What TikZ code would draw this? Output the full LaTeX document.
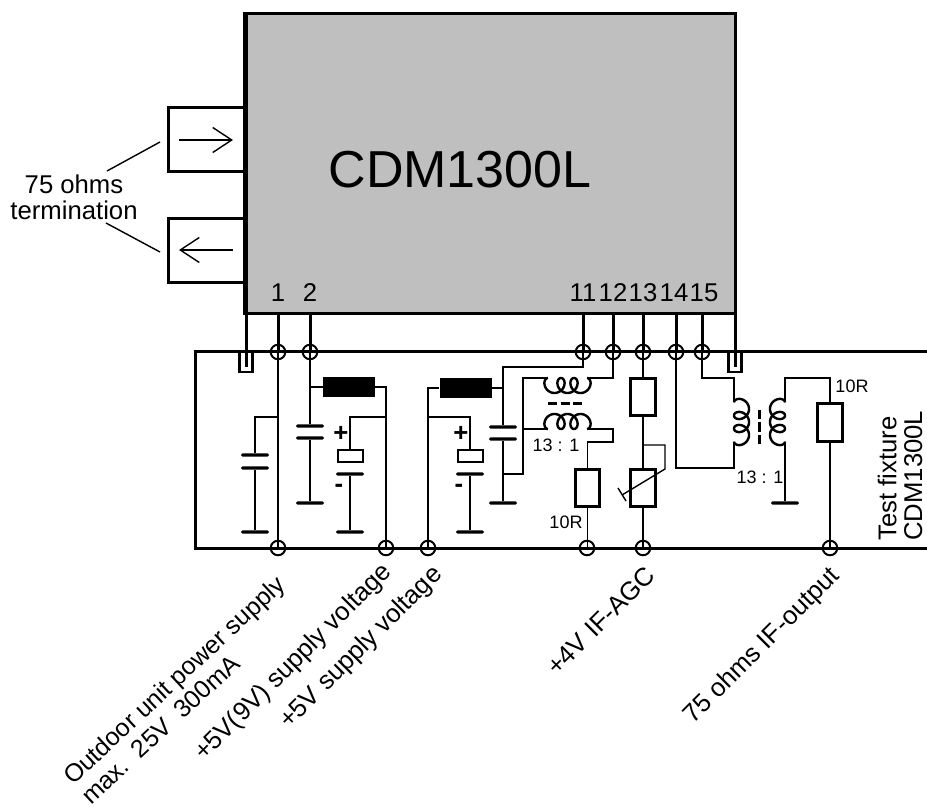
\documentclass[tikz,border=0pt]{standalone}
\usepackage{fontspec}
\setmainfont{Liberation Sans}
\usetikzlibrary{arrows,arrows.meta,positioning,calc}
\newcommand{\bigtxt}{\fontsize{25.7}{25.7}\selectfont}
\newcommand{\midtxt}{\fontsize{25}{25}\selectfont}
\newcommand{\smalltxt}{\fontsize{18}{18}\selectfont}
\tikzset{
    wire/.style={line width=1.4pt},
    lead/.style={line width=3pt},
    joint/.style={circle,draw,line width=2pt,minimum size=14.5pt,inner sep=0pt},
    res/.style={rectangle,draw,line width=3pt,minimum width=24.5pt,minimum height=37pt,inner sep=0pt},
    choke/.style={rectangle,fill=black,minimum width=52pt,minimum height=20pt,inner sep=0pt},
    elbox/.style={rectangle,draw,line width=2pt,minimum width=25pt,minimum height=12pt,inner sep=0pt},
    plate/.style={rectangle,fill=black,rounded corners=1.5pt,minimum width=28pt,minimum height=3.4pt,inner sep=0pt},
    stub/.style={rectangle,draw,line width=2.4pt,minimum width=13pt,minimum height=20pt,inner sep=0pt},
    term/.style={rectangle,draw,line width=3pt,minimum width=78pt,minimum height=64pt,inner sep=0pt},
    txt/.style={font=\bigtxt,inner sep=0pt},
    tiny/.style={font=\smalltxt,inner sep=0pt},
    coil/.pic={
        \draw[line width=2.4pt] plot[domain=-180:900,samples=140,smooth]
            ({2.07*(\x-360)*pi/180+6.5*sin(\x)},{7.5*cos(\x)});
        \coordinate (-a) at (-19.5,-7.5);
        \coordinate (-b) at (19.5,-7.5);
    }
}
\begin{document}
\begin{tikzpicture}[x=1pt,y=-1pt]
    \useasboundingbox (0,0) rectangle (927,810);
    \node[rectangle,draw,fill=black!25,line width=3pt,minimum width=489pt,minimum height=300pt,inner sep=0pt] (chip) at (490.5,164) {};
    \node[font=\fontsize{52}{52}\selectfont,inner sep=0pt] (chipname) at (460,170) {CDM1300L};
    \node[term] (term1) at (207,140) {};
    \node[term] (term2) at (207,250.5) {};
    \draw[line width=3pt] (chip.north west) -- (chip.south west);
    \coordinate (a1) at (179,140);
    \coordinate (a2) at (233,140);
    \coordinate (a3) at (233,250);
    \coordinate (a4) at (179,250);
    \draw[wire,-{Straight Barb[length=19pt,width=25pt]}] (a1) -- (a2);
    \draw[wire,-{Straight Barb[length=19pt,width=25pt]}] (a3) -- (a4);
    \node[txt] (termtxt1) at (74,184) {75 ohms};
    \node[txt] (termtxt2) at (74,210) {termination};
    \coordinate (l1) at (107,171);
    \coordinate (l2) at (106,223);
    \draw[wire] (l1) -- (160,142);
    \draw[wire] (l2) -- (160,252);
    \draw[lead] (927,352) -- (195,352) -- (195,548) -- (927,548);
    \foreach \n/\xx in {p1/278,p2/310,p11/583,p12/613,p13/643,p14/676,p15/702} {
        \node[joint] (\n) at (\xx,352) {};
        \draw[lead] (\n.center) -- (\n.center |- chip.south);
    }
    \foreach \n/\xx in {b1/278,b2/386,b3/428,b4/587,b5/643,b6/830} {
        \node[joint] (\n) at (\xx,548) {};
    }
    \foreach \t/\xx in {1/278,2/310,11/583,12/613,13/643,14/674,15/704} {
        \node[txt] (pin\t) at (\xx,293) {\t};
    }
    \node[stub] (stub1) at (246,362) {};
    \node[stub] (stub2) at (735,362) {};
    \draw[lead] (stub1.center |- chip.south) -- ++(0,52);
    \draw[lead] (stub2.center |- chip.south) -- ++(0,52);
    \draw[wire] (p1.center) -- (b1.center);
    \coordinate (k1) at (278,417);
    \node[plate] (c1a) at (255,455) {};
    \node[plate] (c1b) at (255,468) {};
    \node[plate] (g1) at (255,532) {};
    \draw[wire] (k1) -| (c1a);
    \draw[wire] (c1b) -- (g1);
    \node[choke] (r1) at (349,387) {};
    \node[plate] (c2a) at (310,426) {};
    \node[plate] (c2b) at (310,438) {};
    \node[plate] (g2) at (310,503) {};
    \draw[wire] (p2.center) -- (c2a);
    \draw[wire] (c2b) -- (g2);
    \draw[wire] (r1.west) -- (r1.west -| p2);
    \draw[wire] (r1.east) -| (b2.center);
    \coordinate (k2) at (386,417);
    \node[elbox] (e1) at (350,455.5) {};
    \node[plate] (c3) at (350,474) {};
    \node[plate] (g3) at (350,532) {};
    \draw[wire] (k2) -| (e1.north);
    \draw[wire] (c3) -- (g3);
    \node[txt,font=\bigtxt\bfseries] (plus1) at (341,434) {+};
    \node[txt,font=\bigtxt\bfseries] (minus1) at (339,488) {-};
    \node[choke] (r2) at (465.5,388) {};
    \draw[wire] (r2.west) -| (b3.center);
    \coordinate (k3) at (428,417);
    \node[elbox] (e2) at (470,455.5) {};
    \node[plate] (c4) at (470,474) {};
    \node[plate] (g4) at (470,532) {};
    \draw[wire] (k3) -| (e2.north);
    \draw[wire] (c4) -- (g4);
    \node[txt,font=\bigtxt\bfseries] (plus2) at (461,434) {+};
    \node[txt,font=\bigtxt\bfseries] (minus2) at (459,488) {-};
    \node[plate] (c5a) at (503,427) {};
    \node[plate] (c5b) at (503,439) {};
    \node[plate] (g5) at (503,503) {};
    \coordinate (k4) at (503,367);
    \draw[wire] (r2.east) -- (r2.east -| k4);
    \draw[wire] (p11.center) |- (k4) -- (c5a);
    \draw[wire] (c5b) -- (g5);
    \pic (upcoil) at (567.5,385.5) {coil};
    \pic[yscale=-1] (lowcoil) at (567.5,421.5) {coil};
    \draw[line width=3pt,dash pattern=on 9pt off 3.5pt] (548,404) -- (583,404);
    \coordinate (k5) at (523,474);
    \coordinate (k6) at (503,474);
    \coordinate (k7) at (523,429);
    \coordinate (k8) at (613,442);
    \node[res] (r10a) at (587.5,487.5) {};
    \draw[wire] (p12.center) |- (upcoil-b);
    \draw[wire] (upcoil-a) -| (k5) -- (k6);
    \draw[wire] (lowcoil-a) -- (k7);
    \draw[wire] (lowcoil-b) -| (k8) -| (r10a.north);
    \draw[wire] (r10a.south) -- (r10a.south |- b4);
    \node[tiny] (ratio1) at (556,445) {13 : 1};
    \node[tiny] (ohm1) at (566,522) {10R};
    \node[res] (r3) at (643,397) {};
    \node[res] (r4) at (643,487.5) {};
    \draw[wire] (p13.center) -- (r3.north);
    \draw[wire] (r3.south) -- (r4.north);
    \draw[wire] (r4.south) -- (b5.center);
    \coordinate (k9) at (643,445);
    \coordinate (k10) at (665,469);
    \coordinate (k11) at (622,495);
    \coordinate (k12) at (618,488);
    \coordinate (k13) at (626,501);
    \draw[wire] (k9) -| (k10) -- (k11);
    \draw[wire] (k12) -- (k13);
    \pic[rotate=90] (leftcoil) at (741.5,422) {coil};
    \pic[rotate=-90] (rightcoil) at (777.5,422) {coil};
    \draw[line width=3pt,dash pattern=on 9pt off 3.5pt] (759,410) -- (759,444);
    \coordinate (k14) at (734,468);
    \coordinate (k15) at (734,378);
    \coordinate (k16) at (785,378);
    \draw[wire] (p14.center) |- (k14) -- (leftcoil-a);
    \draw[wire] (p15.center) |- (k15) -- (leftcoil-b);
    \node[res] (r5) at (830,422.5) {};
    \node[plate] (g6) at (785,503) {};
    \draw[wire] (rightcoil-a) -- (k16) -| (r5.north);
    \draw[wire] (rightcoil-b) -- (g6);
    \draw[wire] (r5.south) -- (b6.center);
    \node[tiny] (ratio2) at (760,477) {13 : 1};
    \node[tiny] (ohm2) at (852,386) {10R};
    \node[txt,rotate=90,anchor=west,align=left] (fixture) at (900,541) {Test fixture\\CDM1300L};
    \node[txt,font=\midtxt,rotate=43,anchor=base west] (out1) at (73,786) {Outdoor unit power supply};
    \node[txt,font=\midtxt,rotate=43,anchor=base west] (out2) at (91,806) {max.\ \ 25V\ \ 300mA};
    \node[txt,rotate=45,anchor=base west] (out3) at (204,762) {+5V(9V) supply voltage};
    \node[txt,rotate=45,anchor=base west] (out4) at (289,730) {+5V supply voltage};
    \node[txt,rotate=45,anchor=base west] (out5) at (557,677) {+4V IF-AGC};
    \node[txt,rotate=45,anchor=base west] (out6) at (693,725) {75 ohms IF-output};
\end{tikzpicture}
\end{document}
